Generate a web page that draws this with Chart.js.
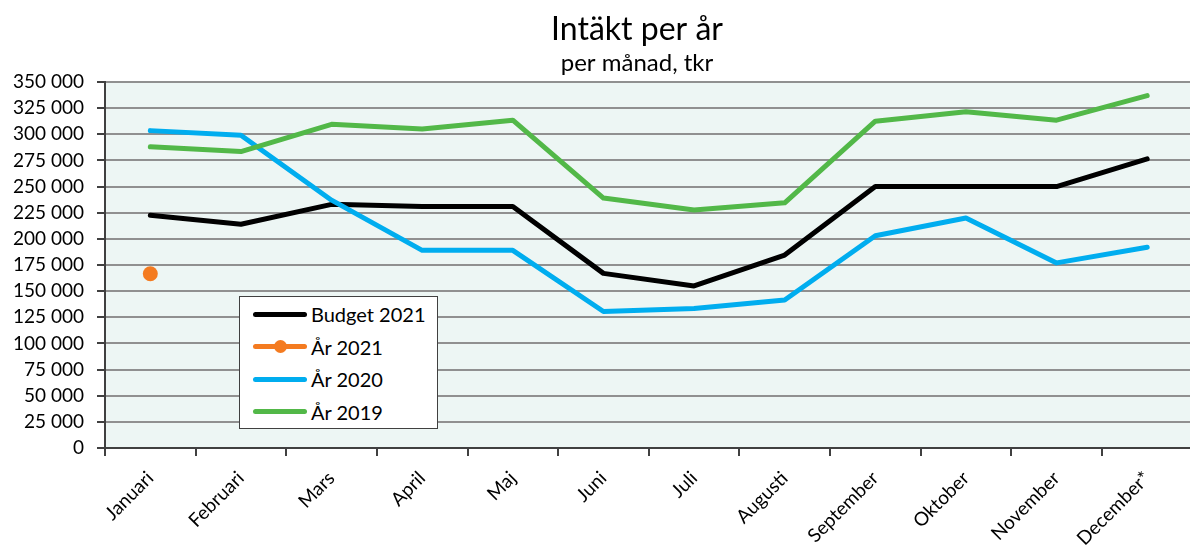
<!DOCTYPE html>
<html>
<head>
<meta charset="utf-8">
<script src="https://cdn.jsdelivr.net/npm/chart.js@4.4.1/dist/chart.umd.min.js"></script>
<style>
  html, body { margin: 0; padding: 0; overflow: hidden; background: #fff; }
  #wrap { position: relative; width: 1200px; height: 550px; }
  #legend {
    position: absolute; left: 239px; top: 296px; width: 199px; height: 133px;
    box-sizing: border-box; border: 1px solid #404040; background: #fff;
    padding-top: 1px; font-family: Lato, sans-serif; font-size: 20px; color: #000;
  }
  .row { height: 32.5px; display: flex; align-items: center; padding-left: 13px; }
  .sample { position: relative; width: 54px; height: 5px; border-radius: 3px; margin-right: 4px; }
  .dot { position: absolute; left: 21px; top: -4px; width: 13px; height: 13px; border-radius: 50%; }
</style>
</head>
<body>
<div id="wrap">
  <canvas id="chart" width="1200" height="550"></canvas>
  <div id="legend"></div>
</div>
<script>
const months = ['Januari', 'Februari', 'Mars', 'April', 'Maj', 'Juni', 'Juli',
  'Augusti', 'September', 'Oktober', 'November', 'December*'];

const budget2021 = [222500, 214000, 233000, 231000, 231000, 167000, 155000, 184500, 250000, 250000, 250000, 276500];
const year2021 = [166700, null, null, null, null, null, null, null, null, null, null, null];
const year2020 = [303500, 299000, 237000, 189000, 189000, 130500, 133500, 141500, 203000, 220000, 177000, 192000];
const year2019 = [288000, 283500, 309500, 305000, 313500, 239000, 227500, 234500, 312500, 321500, 313500, 337000];

const colors = {
  budget: '#000000',
  y2021: '#F47B20',
  y2020: '#00ADEF',
  y2019: '#52B848'
};

// fill the plot area with the light green background
const plotBg = {
  id: 'plotBg',
  beforeDraw(chart) {
    const { ctx, chartArea } = chart;
    ctx.save();
    ctx.fillStyle = '#EDF6F4';
    ctx.fillRect(chartArea.left, chartArea.top, chartArea.right - chartArea.left, chartArea.bottom - chartArea.top);
    ctx.restore();
  }
};

// the plot runs past the right edge of the picture, so the titles sit right of the canvas centre
const titleShift = {
  id: 'titleShift',
  afterLayout(chart) {
    chart.boxes.forEach(b => {
      if (b.options && 'text' in b.options && b.position === 'top') {
        b.left += 37;
        b.right += 37;
      }
    });
  }
};

function fmt(v) {
  return String(v).replace(/\B(?=(\d{3})+(?!\d))/g, ' ');
}

const lineDefaults = { borderWidth: 5, pointRadius: 0, borderCapStyle: 'round', borderJoinStyle: 'round', tension: 0 };

const chart = new Chart(document.getElementById('chart'), {
  type: 'line',
  data: {
    labels: months,
    datasets: [
      { label: 'Budget 2021', data: budget2021, borderColor: colors.budget, backgroundColor: colors.budget, order: 4, ...lineDefaults },
      { label: 'År 2021', data: year2021, borderColor: colors.y2021, backgroundColor: colors.y2021, order: 0, ...lineDefaults,
        pointRadius: 7.5, pointBorderWidth: 0, showLine: false },
      { label: 'År 2020', data: year2020, borderColor: colors.y2020, backgroundColor: colors.y2020, order: 2, ...lineDefaults },
      { label: 'År 2019', data: year2019, borderColor: colors.y2019, backgroundColor: colors.y2019, order: 1, ...lineDefaults }
    ]
  },
  options: {
    responsive: false,
    animation: false,
    layout: { padding: 0 },
    plugins: {
      legend: { display: false },
      tooltip: { enabled: false },
      title: {
        display: true,
        text: 'Intäkt per år',
        color: '#000',
        font: { family: 'Lato', size: 32, weight: 'normal' },
        padding: { top: 10, bottom: 0 }
      },
      subtitle: {
        display: true,
        text: 'per månad, tkr',
        color: '#000',
        font: { family: 'Lato', size: 24, weight: 'normal' },
        padding: { top: 0, bottom: 4.8 }
      }
    },
    scales: {
      x: {
        offset: true,
        grid: { display: true, drawOnChartArea: false, drawTicks: true, tickLength: 8, offset: true, color: '#404040', lineWidth: 2 },
        border: { display: true, color: '#404040', width: 2 },
        ticks: { color: '#000', font: { family: 'Lato', size: 19 }, minRotation: 45, maxRotation: 45, padding: 11 },
        afterFit(scale) { scale.height = 102; }
      },
      y: {
        min: 0,
        max: 350000,
        ticks: { stepSize: 25000, color: '#000', font: { family: 'Lato', size: 19 }, padding: 13, callback: fmt },
        grid: { color: '#909090', lineWidth: 2, tickLength: 8, tickColor: '#404040' },
        border: { display: true, color: '#404040', width: 2 },
        afterFit(scale) { scale.width = 105; }
      }
    }
  },
  plugins: [plotBg, titleShift]
});

// html legend built from the datasets
const legend = document.getElementById('legend');
chart.data.datasets.forEach(ds => {
  const row = document.createElement('div');
  row.className = 'row';
  const sample = document.createElement('span');
  sample.className = 'sample';
  sample.style.background = ds.borderColor;
  if (ds.showLine === false) {
    const dot = document.createElement('span');
    dot.className = 'dot';
    dot.style.background = ds.borderColor;
    sample.appendChild(dot);
  }
  const txt = document.createElement('span');
  txt.textContent = ds.label;
  row.appendChild(sample);
  row.appendChild(txt);
  legend.appendChild(row);
});
</script>
</body>
</html>
